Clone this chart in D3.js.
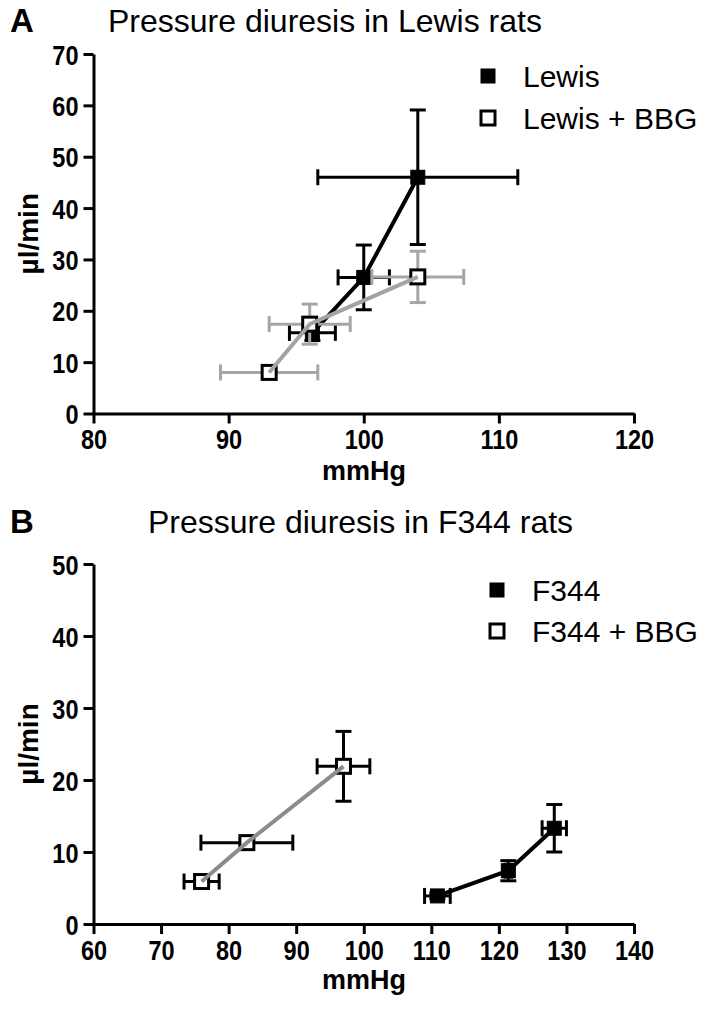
<!DOCTYPE html>
<html><head><meta charset="utf-8">
<script src="https://cdn.jsdelivr.net/npm/d3@7"></script>
<style>
body{margin:0;background:#fff;}
svg{display:block;}
.tick text{font-family:"Liberation Sans",Arial,sans-serif;font-weight:bold;font-size:28px;fill:#000;}
</style></head>
<body>
<script>
// ---- Panel A data (Lewis rats) ----
const lewisX = [96.2, 100.0, 104.0];
const lewisY = [15.7, 26.5, 46.0];
const lewisXErr = [1.7, 1.9, 7.4];
const lewisYErr = [1.5, 6.3, 13.1];
const lewisBbgX = [93.0, 96.0, 104.0];
const lewisBbgY = [8.0, 17.4, 26.6];
const lewisBbgXErr = [3.6, 3.0, 3.4];
const lewisBbgYErr = [0.8, 3.9, 5.0];
const xTicksA = [80, 90, 100, 110, 120];
const yTicksA = [0, 10, 20, 30, 40, 50, 60, 70];

// ---- Panel B data (F344 rats) ----
const f344X = [110.9, 121.4, 128.2];
const f344Y = [3.9, 7.4, 13.3];
const f344XErr = [1.9, 0.5, 1.8];
const f344YErr = [0.4, 1.4, 3.3];
const f344BbgX = [76.0, 82.7, 97.0];
const f344BbgY = [5.9, 11.3, 21.9];
const f344BbgXErr = [2.6, 6.8, 3.9];
const f344BbgYErr = [0.5, 0.5, 4.85];
const xTicksB = [60, 70, 80, 90, 100, 110, 120, 130, 140];
const yTicksB = [0, 10, 20, 30, 40, 50];

const W = 708, H = 1017;
const FONT = "Liberation Sans, Arial, sans-serif";
const svg = d3.select("body").append("svg").attr("width", W).attr("height", H);

function zip(xs, ys, xe, ye){ return xs.map((x,i)=>({x, y:ys[i], xe:xe[i], ye:ye[i]})); }

function panel(cfg){
  const g = svg.append("g");
  const x = d3.scaleLinear().domain(cfg.xDomain).range([93.5, 634]);
  const y = d3.scaleLinear().domain(cfg.yDomain).range(cfg.yRange);

  // axes
  const ax = g.append("g").attr("transform", `translate(0,${cfg.yRange[0]})`)
    .call(d3.axisBottom(x).tickValues(cfg.xTicks).tickSize(10).tickSizeOuter(0).tickPadding(6));
  const ay = g.append("g").attr("transform", `translate(93.5,0)`)
    .call(d3.axisLeft(y).tickValues(cfg.yTicks).tickSize(10).tickSizeOuter(0).tickPadding(6));
  [ax, ay].forEach(a=>{
    a.selectAll("path.domain").attr("stroke","#000").attr("stroke-width",3);
    a.selectAll(".tick line").attr("stroke","#000").attr("stroke-width",3);
  });
  ax.selectAll(".tick text").attr("transform","scale(0.84,1)");
  ay.selectAll(".tick text").attr("dy","0.36em").attr("x",0)
    .attr("transform","translate(-15,0) scale(0.84,1)");

  // series
  cfg.series.forEach(s=>{
    const d = zip(s.x, s.y, s.xe, s.ye);
    const eg = g.append("g").attr("stroke", s.errColor).attr("stroke-width", 3).attr("fill","none");
    const cap = 8;
    d.forEach(p=>{
      const cx = x(p.x), cy = y(p.y);
      const x0 = x(p.x - p.xe), x1 = x(p.x + p.xe);
      const y0 = y(p.y - p.ye), y1 = y(p.y + p.ye);
      eg.append("line").attr("x1",x0).attr("x2",x1).attr("y1",cy).attr("y2",cy);
      eg.append("line").attr("x1",x0).attr("x2",x0).attr("y1",cy-cap).attr("y2",cy+cap);
      eg.append("line").attr("x1",x1).attr("x2",x1).attr("y1",cy-cap).attr("y2",cy+cap);
      eg.append("line").attr("x1",cx).attr("x2",cx).attr("y1",y0).attr("y2",y1);
      eg.append("line").attr("x1",cx-cap).attr("x2",cx+cap).attr("y1",y0).attr("y2",y0);
      eg.append("line").attr("x1",cx-cap).attr("x2",cx+cap).attr("y1",y1).attr("y2",y1);
    });
    const sz = 14;
    g.append("g").selectAll("rect").data(d).join("rect")
      .attr("x", p=>x(p.x)-sz/2).attr("y", p=>y(p.y)-sz/2)
      .attr("width", sz).attr("height", sz)
      .attr("fill", s.filled ? "#000" : "#fff")
      .attr("stroke", "#000").attr("stroke-width", s.filled ? 1 : 3);
    g.append("path").datum(d)
      .attr("d", d3.line().x(p=>x(p.x)).y(p=>y(p.y)))
      .attr("fill","none").attr("stroke", s.lineColor).attr("stroke-width", 4);
  });

  // legend
  cfg.series.forEach((s,i)=>{
    const ly = cfg.legY[i];
    const sz = 14;
    g.append("rect").attr("x", cfg.legX - sz/2).attr("y", ly - sz/2).attr("width", sz).attr("height", sz)
      .attr("fill", s.filled ? "#000" : "#fff").attr("stroke","#000").attr("stroke-width", s.filled?1:3);
    g.append("text").attr("x", cfg.legX + 35).attr("y", ly).attr("dy","0.36em")
      .attr("font-family",FONT).attr("font-size",30)
      .text(s.name);
  });

  // titles
  g.append("text").attr("x", 10).attr("y", cfg.titleY).attr("font-family",FONT)
    .attr("font-weight","bold").attr("font-size",33).text(cfg.letter);
  g.append("text").attr("x", cfg.titleX).attr("y", cfg.titleY).attr("font-family",FONT)
    .attr("font-size",32).text(cfg.title);
  g.append("text").attr("x", 364).attr("y", cfg.yRange[0] + cfg.xTitleOff).attr("text-anchor","middle")
    .attr("font-family",FONT).attr("font-weight","bold").attr("font-size",27).text("mmHg");
  const my = (cfg.yRange[0] + cfg.yRange[1]) / 2;
  g.append("text").attr("transform", `translate(38,${my}) rotate(-90)`).attr("text-anchor","middle")
    .attr("font-family",FONT).attr("font-weight","bold").attr("font-size",28).text("µl/min");
}

panel({
  xDomain:[80,120], yDomain:[0,70], yRange:[413.5,54], xTicks:xTicksA, yTicks:yTicksA,
  letter:"A", title:"Pressure diuresis in Lewis rats", titleX:108, titleY:32,
  legX:488, legY:[76,118], xTitleOff:66,
  series:[
    {name:"Lewis", x:lewisX, y:lewisY, xe:lewisXErr, ye:lewisYErr, filled:true, errColor:"#000", lineColor:"#000"},
    {name:"Lewis + BBG", x:lewisBbgX, y:lewisBbgY, xe:lewisBbgXErr, ye:lewisBbgYErr, filled:false, errColor:"#a6a6a6", lineColor:"#a3a3a3"}
  ]
});
panel({
  xDomain:[60,140], yDomain:[0,50], yRange:[924,564], xTicks:xTicksB, yTicks:yTicksB,
  letter:"B", title:"Pressure diuresis in F344 rats", titleX:148, titleY:533,
  legX:497, legY:[590,631], xTitleOff:65,
  series:[
    {name:"F344", x:f344X, y:f344Y, xe:f344XErr, ye:f344YErr, filled:true, errColor:"#000", lineColor:"#000"},
    {name:"F344 + BBG", x:f344BbgX, y:f344BbgY, xe:f344BbgXErr, ye:f344BbgYErr, filled:false, errColor:"#000", lineColor:"#8c8c8c"}
  ]
});
</script>
</body></html>
